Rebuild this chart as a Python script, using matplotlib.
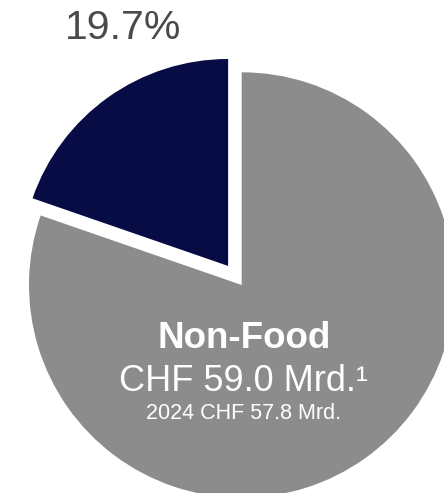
"""Anteil Non-Food am Umsatz als Tortendiagramm."""
import matplotlib
matplotlib.use("Agg")
import matplotlib.pyplot as plt

plt.rcParams["font.family"] = ["Liberation Sans", "DejaVu Sans"]

# Daten
segmente = ["Food", "Non-Food"]
anteile = [19.7, 80.3]
farben = ["#070c45", "#8c8c8c"]
anteil_label = "19.7%"
titel = "Non-Food"
wert = "CHF 59.0 Mrd.¹"
vorjahr = "2024 CHF 57.8 Mrd."

fig = plt.figure(figsize=(4.44, 4.93), dpi=100)
ax = fig.add_axes([0, 0, 1, 1])

wedges, _ = ax.pie(anteile, colors=farben, startangle=90, counterclock=True,
                   explode=[0.11, 0], radius=1.0)
wedges[0].set_radius(0.973)

# Pixelgenaue Platzierung: Zentrum bei (241.7, 285), Radius 212.7 px
ax.set_xlim(-1.1363, 0.9511)
ax.set_ylim(-0.9779, 1.3399)
ax.set_aspect("auto")
ax.axis("off")

ax.text(-0.556, 1.157, anteil_label, ha="center", va="baseline",
        fontsize=29.5, color="#4a4a4c")
ax.text(0.01, -0.296, titel, ha="center", va="baseline",
        fontsize=26.5, fontweight="bold", color="white")
ax.text(0.01, -0.498, wert, ha="center", va="baseline",
        fontsize=26, color="white")
ax.text(0.01, -0.630, vorjahr, ha="center", va="baseline",
        fontsize=15.5, color="white")

fig.savefig("out.png", dpi=100)
